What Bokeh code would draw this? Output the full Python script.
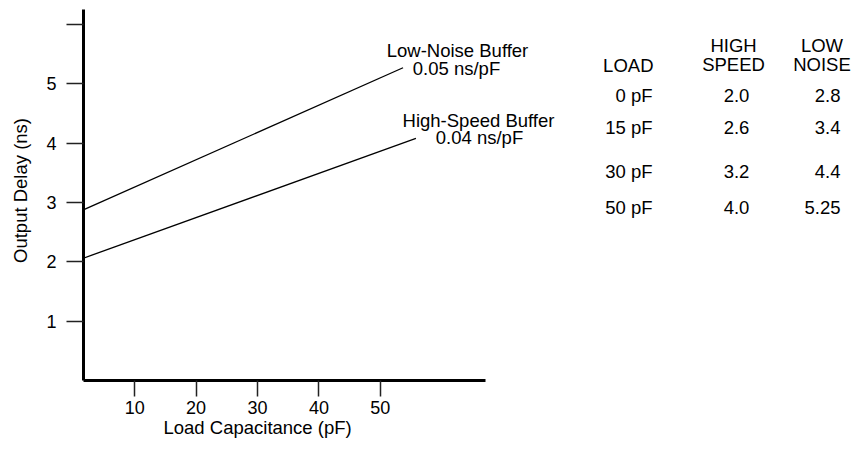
from bokeh.plotting import figure
from bokeh.models import Range1d, FixedTicker, ColumnDataSource, Title
from bokeh.embed import file_html
from bokeh.resources import INLINE
from bokeh.core.properties import value

# ---------------- data ----------------
load_pf = [0, 15, 30, 50]
high_speed_ns = [2.0, 2.6, 3.2, 4.0]
low_noise_ns = [2.8, 3.4, 4.4, 5.25]
x_ticks = [10, 20, 30, 40, 50]
y_ticks = [1, 2, 3, 4, 5, 6]
# straight trend lines as drawn
hs_line_x = [0, 55.8]
hs_line_y = [2.0, 4.08]
ln_line_x = [0, 53.7]
ln_line_y = [2.8, 5.27]
hs_label = ["High-Speed Buffer", "0.04 ns/pF"]
ln_label = ["Low-Noise Buffer", "0.05 ns/pF"]
header_top = ["HIGH", "LOW"]
header_bottom = ["LOAD", "SPEED", "NOISE"]
x_title = "Load Capacitance (pF)"
y_title = "Output Delay (ns)"

# ---------------- layout ----------------
OFF = 0
W, H = 851, 447
LEFT = 83 - OFF
FRAME_BOTTOM = 380 - OFF
BOTTOM = H - FRAME_BOTTOM
FRAME_W = W - LEFT
FRAME_H = FRAME_BOTTOM
PX_PER_X = 6.14
PX_PER_Y = 59.34
X0 = 1.66
X1 = X0 + FRAME_W / PX_PER_X
Y0 = 0.0
Y1 = FRAME_H / PX_PER_Y

FONT = value("Liberation Sans")
FS = value("18.5px")


def dx(px_page):
    return X0 + (px_page - OFF - LEFT) / PX_PER_X


def dy(py_page):
    return (FRAME_BOTTOM + OFF - py_page) / PX_PER_Y


p = figure(width=W, height=H, output_backend="svg", toolbar_location=None,
           x_range=Range1d(X0, X1), y_range=Range1d(Y0, Y1),
           min_border_left=LEFT, min_border_bottom=BOTTOM,
           min_border_top=0, min_border_right=0)
p.outline_line_color = None
p.grid.visible = False
p.background_fill_color = "white"
p.border_fill_color = "white"

for ax in (p.xaxis[0], p.yaxis[0]):
    ax.axis_line_width = 3
    ax.axis_line_color = "black"
    ax.major_tick_line_width = 1.5
    ax.major_tick_line_color = "#222222"
    ax.major_tick_in = 0
    ax.minor_tick_line_color = None
    ax.major_label_text_font = "Liberation Sans"
    ax.major_label_text_font_size = "18px"
    ax.major_label_text_color = "black"
    ax.axis_label_text_font = "Liberation Sans"
    ax.axis_label_text_font_size = "18.5px"
    ax.axis_label_text_font_style = "normal"
    ax.axis_label_text_color = "black"

p.xaxis.ticker = FixedTicker(ticks=x_ticks)
p.xaxis.bounds = (X0, dx(485))
p.xaxis.major_tick_out = 16
p.xaxis.major_label_standoff = 4

p.yaxis.ticker = FixedTicker(ticks=y_ticks)
p.yaxis.major_label_overrides = {6: ""}
p.yaxis.bounds = (0, dy(9))
p.yaxis.major_tick_out = 17
p.yaxis.major_label_standoff = 10
p.yaxis.axis_label = y_title
p.yaxis.axis_label_standoff = 12

# x-axis title, placed under the drawn axis span (left offset from frame)
p.add_layout(Title(text=x_title, align="left", offset=80, standoff=-4,
                   text_font="Liberation Sans", text_font_size="18.5px",
                   text_font_style="normal", text_color="black"), "below")

# trend lines
p.line(hs_line_x, hs_line_y, line_color="black", line_width=1.3)
p.line(ln_line_x, ln_line_y, line_color="black", line_width=1.3)

# line annotations
ann = ColumnDataSource(dict(
    x=[dx(457), dx(456), dx(478), dx(479)],
    y=[dy(50), dy(68), dy(120), dy(137)],
    t=[ln_label[0], ln_label[1], hs_label[0], hs_label[1]],
))
p.text(x="x", y="y", text="t", source=ann, text_font=FONT,
       text_font_size=FS, text_align="center",
       text_baseline="middle", text_color="black")

# table
row_y = [dy(v) for v in (95, 127, 171, 207)]
load_txt = [f"{v} pF" for v in load_pf]
hs_txt = [f"{v:.1f}" for v in high_speed_ns]
ln_txt = [f"{v:g}" for v in low_noise_ns]

p.text(x=[dx(652)] * 4, y=row_y, text=load_txt, text_font=FONT,
       text_font_size=FS, text_align="right",
       text_baseline="middle", text_color="black")
p.text(x=[dx(736)] * 4, y=row_y, text=hs_txt, text_font=FONT,
       text_font_size=FS, text_align="center",
       text_baseline="middle", text_color="black")
p.text(x=[dx(840)] * 4, y=row_y, text=ln_txt, text_font=FONT,
       text_font_size=FS, text_align="right",
       text_baseline="middle", text_color="black")

# headers
p.text(x=[dx(733), dx(821.5)], y=[dy(45)] * 2, text=header_top,
       text_font=FONT, text_font_size=FS, text_align="center",
       text_baseline="middle", text_color="black")
p.text(x=[dx(733), dx(821.5)], y=[dy(64)] * 2, text=header_bottom[1:],
       text_font=FONT, text_font_size=FS, text_align="center",
       text_baseline="middle", text_color="black")
p.text(x=[dx(653)], y=[dy(65)], text=header_bottom[:1],
       text_font=FONT, text_font_size=FS, text_align="right",
       text_baseline="middle", text_color="black")

open("out.html", "w").write(file_html(p, INLINE))
